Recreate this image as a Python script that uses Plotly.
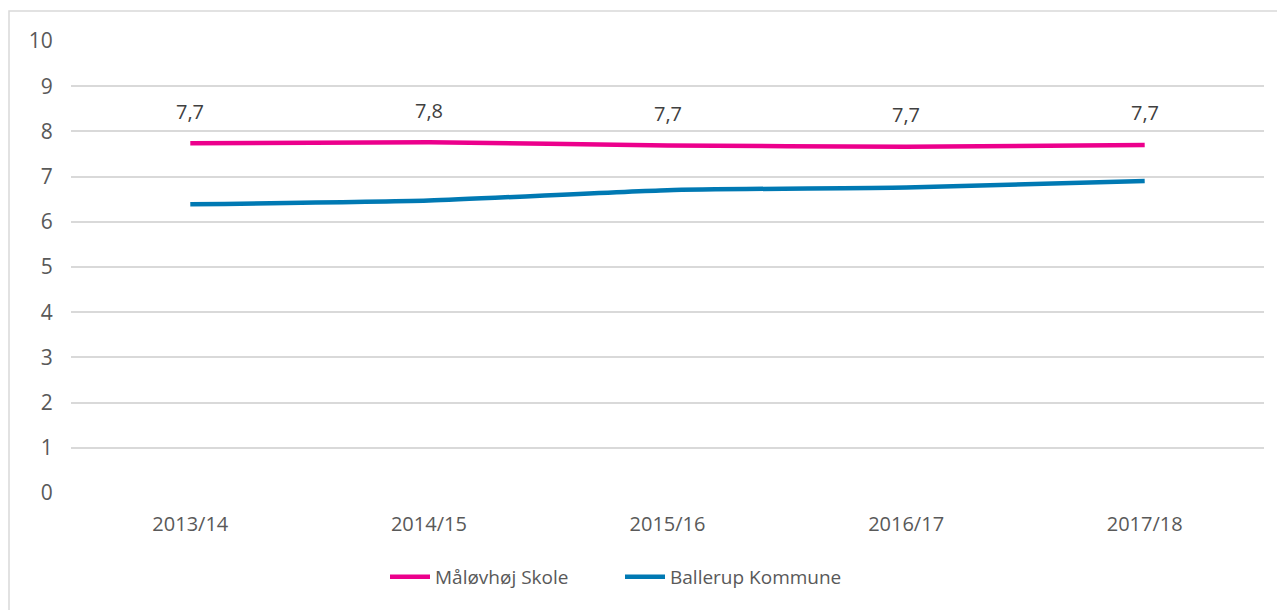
import plotly.graph_objects as go

categories = ["2013/14", "2014/15", "2015/16", "2016/17", "2017/18"]
skole = [7.74, 7.76, 7.69, 7.66, 7.70]
kommune = [6.39, 6.47, 6.70, 6.76, 6.90]
skole_labels = ["7,7", "7,8", "7,7", "7,7", "7,7"]
y_ticks = list(range(0, 11))

PINK = "#EC008C"
BLUE = "#0079B3"
TXT = "#595959"
GRID = "#D9D9D9"
FONT = "Open Sans"

# page has an 8px body margin
W, H = 1277, 602
ml, mr, mt, mb = 63, 21, 33, 117
pw, ph = W - ml - mr, H - mt - mb

fig = go.Figure()
fig.add_trace(go.Scatter(x=categories, y=skole, name="Måløvhøj Skole", mode="lines",
                         line=dict(color=PINK, width=4.5, shape="spline", smoothing=0.6)))
fig.add_trace(go.Scatter(x=categories, y=kommune, name="Ballerup Kommune", mode="lines",
                         line=dict(color=BLUE, width=4.5, shape="spline", smoothing=0.6)))

for c, v, t in zip(categories, skole, skole_labels):
    fig.add_annotation(x=c, y=v, text=t, showarrow=False, yshift=32,
                       font=dict(family=FONT, size=20, color="#404040"))

def px2paper_x(p):
    return (p - ml) / pw

def px2paper_y(p):
    return (H - mb - p) / ph

fig.add_shape(type="rect", xref="paper", yref="paper",
              x0=px2paper_x(1), x1=px2paper_x(1290),
              y0=px2paper_y(620), y1=px2paper_y(3),
              line=dict(color=GRID, width=1.5), fillcolor="rgba(0,0,0,0)", layer="below")

fig.update_layout(
    width=W, height=H,
    margin=dict(l=ml, r=mr, t=mt, b=mb),
    plot_bgcolor="white", paper_bgcolor="white",
    font=dict(family=FONT, size=20, color=TXT),
    showlegend=True,
    legend=dict(orientation="h", x=px2paper_x(612), xanchor="center",
                y=px2paper_y(569), yanchor="middle",
                font=dict(family=FONT, size=19, color=TXT), itemwidth=40,
                traceorder="normal", entrywidth=180),
    xaxis=dict(type="category", range=[-0.5, 4.5], showgrid=False, showline=False,
               zeroline=False, ticks="outside", ticklen=13, tickcolor="rgba(0,0,0,0)",
               tickfont=dict(family=FONT, size=20, color=TXT)),
    yaxis=dict(range=[0, 10], tickvals=y_ticks, showgrid=True, gridcolor=GRID, gridwidth=1.5,
               zeroline=False, showline=False, ticks="outside", ticklen=13,
               tickcolor="rgba(0,0,0,0)", tickfont=dict(family=FONT, size=21, color=TXT)),
)

fig.write_html("out.html")
